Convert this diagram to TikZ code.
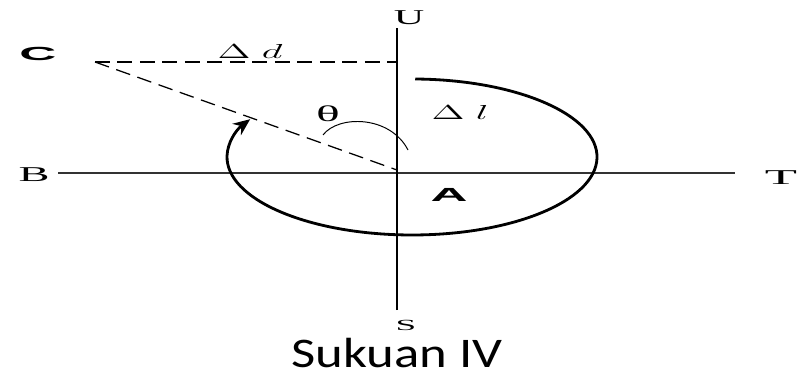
\documentclass[tikz,border=0pt]{standalone}
\usepackage{fontspec}
\setmainfont{Liberation Serif}
\newfontfamily\boldsans{Liberation Sans}
\newfontfamily\capfont{Carlito}
\usetikzlibrary{arrows.meta}
\newcommand{\xwide}[2]{\scalebox{#1}[1]{#2}}
\begin{document}
\begin{tikzpicture}[
  axislbl/.style={font=\fontsize{15}{17}\selectfont, inner sep=0pt},
  boldlbl/.style={font=\boldsans\bfseries\fontsize{13.5}{15}\selectfont, inner sep=0pt},
  mathlbl/.style={font=\fontsize{14}{16}\selectfont, inner sep=0pt},
  guide/.style={dash pattern=on 10.5pt off 5.5pt, line width=0.9pt}
]
\useasboundingbox (0,0) rectangle (20.3,9.4);
\coordinate (A) at (9.925,5.075);
\coordinate (Cpt) at (2.375,7.85);
\coordinate (Ctop) at (9.925,7.85);
\coordinate (Aend) at (9.925,5.15);
\draw[line width=1.3pt, black!80] (1.45,5.075) coordinate (Bend) -- (18.375,5.075) coordinate (Tend);
\draw[line width=2pt] (9.925,1.65) coordinate (Send) -- (9.925,8.7) coordinate (Uend);
\node[axislbl] (B) at (0.85,5.025) {\xwide{2.2}{B}};
\node[axislbl] (T) at (19.525,4.95) {\xwide{2.5}{T}};
\node[axislbl] (U) at (10.225,8.95) {\xwide{2}{U}};
\node[axislbl, font=\fontsize{11}{13}\selectfont] (S) at (10.15,1.26) {\xwide{2.4}{S}};
\node[boldlbl] (C) at (0.95,8.05) {\xwide{2.7}{C}};
\node[boldlbl] (Alabel) at (11.225,4.525) {\xwide{2.7}{A}};
\draw[guide] (Cpt) -- (Ctop);
\draw[guide] (Cpt) -- (Aend);
\node[mathlbl] (dd) at (6.25,8.125) {\xwide{2}{$\Delta\;d$}};
\node[mathlbl, font=\fontsize{16}{18}\selectfont] (th) at (8.2,6.55) {\xwide{2.2}{θ}};
\node[mathlbl] (dl) at (11.5,6.6) {\xwide{2}{$\Delta\;l$}};
\draw[line width=0.7pt] (8.075,6.025) .. controls (8.45,6.525) and (9.75,6.525) .. (10.2,5.65);
\draw[line width=2pt, -{Stealth[length=12pt, width=10pt]}] (10.381,7.425) arc[start angle=89, end angle=-209, x radius=4.625, y radius=1.95];
\node[font=\capfont\fontsize{30}{34}\selectfont, anchor=base, inner sep=0pt] (cap) at (9.925,0.225) {\xwide{1.25}{Sukuan IV}};
\end{tikzpicture}
\end{document}
